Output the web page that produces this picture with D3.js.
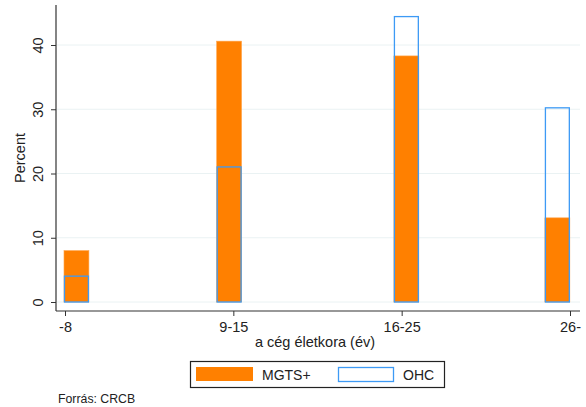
<!DOCTYPE html>
<html>
<head>
<meta charset="utf-8">
<script src="https://cdn.jsdelivr.net/npm/d3@7"></script>
<style>
  html, body { margin: 0; padding: 0; background: #fff; }
  svg { display: block; font-family: "Liberation Sans", Arial, sans-serif; }
</style>
</head>
<body>
<svg id="chart" width="586" height="407"></svg>
<script>
// Age groups of the company (years) and their position on the x axis
const ageGroups = ["-8", "9-15", "16-25", "26-"];
const tickPositions = [1, 2, 3, 4];
// Bar left edges on the same numeric axis (bars are drawn 0.148 wide)
const barStarts = [0.994, 1.901, 2.954, 3.851];
const barWidth = 0.148;
// Percent share per age group
const mgtsValues = [8.0, 40.6, 38.3, 13.1];
const ohcValues = [4.1, 21.1, 44.5, 30.3];
const yTicks = [0, 10, 20, 30, 40];
const seriesNames = ["MGTS+", "OHC"];

const svg = d3.select("#chart");
const plot = { left: 56, right: 580, top: 5, bottom: 311 };
const fontSize = 14.5;

const x = d3.scaleLinear().domain([1, 4]).range([65, 570]);
const y = d3.scaleLinear().domain([0, 40]).range([302, 45]);

// horizontal grid lines
svg.append("g")
  .selectAll("line")
  .data(yTicks)
  .join("line")
  .attr("x1", plot.left + 1)
  .attr("x2", plot.right)
  .attr("y1", d => y(d))
  .attr("y2", d => y(d))
  .attr("stroke", "#eaf2f3")
  .attr("stroke-width", 1);

// MGTS+ bars: solid orange
svg.append("g")
  .selectAll("rect")
  .data(mgtsValues)
  .join("rect")
  .attr("x", (d, i) => x(barStarts[i]))
  .attr("width", (d, i) => x(barStarts[i] + barWidth) - x(barStarts[i]))
  .attr("y", d => y(d))
  .attr("height", d => y(0) - y(d))
  .attr("fill", "#ff8000")
  .attr("stroke", "#ffa54d")
  .attr("stroke-width", 0.6);

// OHC bars: blue outline only
svg.append("g")
  .selectAll("rect")
  .data(ohcValues)
  .join("rect")
  .attr("x", (d, i) => x(barStarts[i]) + 0.5)
  .attr("width", (d, i) => x(barStarts[i] + barWidth) - x(barStarts[i]) - 1)
  .attr("y", d => y(d) + 0.5)
  .attr("height", d => y(0) - y(d) - 0.5)
  .attr("fill", "none")
  .attr("stroke", "#3d9af5")
  .attr("stroke-width", 1.3);

// y axis
const yAxis = svg.append("g")
  .attr("transform", `translate(${plot.left},0)`)
  .call(d3.axisLeft(y).tickValues(yTicks).tickSize(5).tickPadding(4).tickFormat(d3.format("d")));
yAxis.select(".domain").attr("d", `M0,${plot.top}V${plot.bottom}`).attr("stroke", "#333").attr("stroke-width", 1.2);
yAxis.selectAll(".tick line").attr("stroke", "#333");
yAxis.selectAll(".tick text")
  .attr("font-size", fontSize)
  .attr("fill", "#222")
  .attr("text-anchor", "middle")
  .attr("dy", null)
  .attr("x", null)
  .attr("transform", "translate(-18.5,0) rotate(-90)")
  .attr("dominant-baseline", "central");

// x axis
const xAxis = svg.append("g")
  .attr("transform", `translate(0,${plot.bottom})`)
  .call(d3.axisBottom(x).tickValues(tickPositions).tickSize(5).tickPadding(6)
    .tickFormat((d, i) => ageGroups[i]));
xAxis.select(".domain").attr("d", `M${plot.left},0H${plot.right}`).attr("stroke", "#333").attr("stroke-width", 1.2);
xAxis.selectAll(".tick line").attr("stroke", "#333");
xAxis.selectAll(".tick text").attr("font-size", fontSize).attr("fill", "#222");

// axis titles
svg.append("text")
  .attr("x", 315)
  .attr("y", 347)
  .attr("text-anchor", "middle")
  .attr("font-size", fontSize)
  .attr("fill", "#222")
  .text("a cég életkora (év)");

svg.append("text")
  .attr("transform", "translate(24.5,158) rotate(-90)")
  .attr("text-anchor", "middle")
  .attr("font-size", fontSize)
  .attr("fill", "#222")
  .text("Percent");

// legend
const legend = svg.append("g");
legend.append("rect")
  .attr("x", 190.5).attr("y", 361.5).attr("width", 254).attr("height", 26)
  .attr("fill", "#fff").attr("stroke", "#222").attr("stroke-width", 1.2);
legend.append("rect")
  .attr("x", 196).attr("y", 367).attr("width", 57).attr("height", 14)
  .attr("fill", "#ff8000");
legend.append("text")
  .attr("x", 262).attr("y", 379.5).attr("font-size", 14).attr("fill", "#222")
  .text(seriesNames[0]);
legend.append("rect")
  .attr("x", 338.5).attr("y", 367.5).attr("width", 55).attr("height", 14)
  .attr("fill", "none").attr("stroke", "#3d9af5").attr("stroke-width", 1.3);
legend.append("text")
  .attr("x", 403).attr("y", 379.5).attr("font-size", 14).attr("fill", "#222")
  .text(seriesNames[1]);

// source note
svg.append("text")
  .attr("x", 58).attr("y", 403).attr("font-size", 12.3).attr("fill", "#222")
  .text("Forrás: CRCB");
</script>
</body>
</html>
